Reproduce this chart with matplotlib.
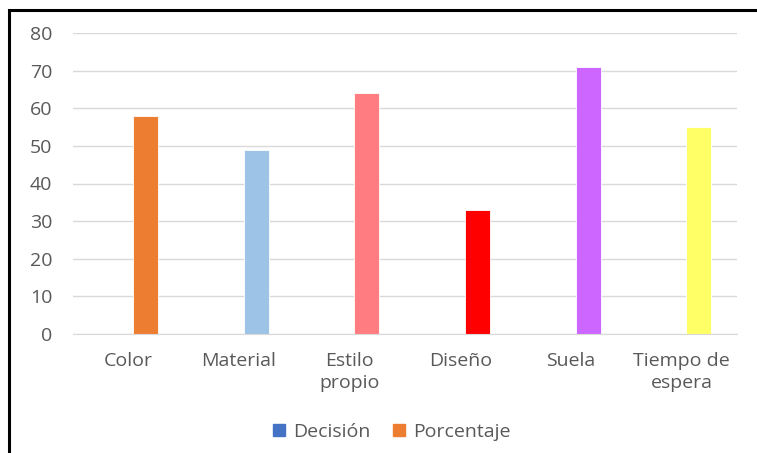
import matplotlib
matplotlib.use('Agg')
import matplotlib.pyplot as plt
from matplotlib.patches import Rectangle
from matplotlib.lines import Line2D
import numpy as np

plt.rcParams.update({'font.family': ['Open Sans', 'DejaVu Sans'], 'font.size': 14})

categories = ['Color', 'Material', 'Estilo\npropio', 'Diseño', 'Suela', 'Tiempo de\nespera']
decision = [0, 0, 0, 0, 0, 0]
porcentaje = [58, 49, 64, 33, 71, 55]
bar_colors = ['#ED7D31', '#9DC3E6', '#FF7C80', '#FF0000', '#CC66FF', '#FFFF66']
series_names = ['Decisión', 'Porcentaje']
legend_colors = ['#4472C4', '#ED7D31']

fig = plt.figure(figsize=(7.57, 4.53), dpi=100)
ax = fig.add_axes([73/757, 1 - 334/453, (737 - 73)/757, (334 - 33)/453])

x = np.arange(len(categories))
w = 0.226
off = 0.155
ax.bar(x - off, decision, w, color=legend_colors[0])
ax.bar(x + off, porcentaje, w, color=bar_colors, edgecolor='white', linewidth=0.6)

ax.set_xlim(-0.5, len(categories) - 0.5)
ax.set_ylim(0, 80)
ax.set_yticks(np.arange(0, 81, 10))
ax.set_xticks(x)
ax.set_xticklabels(categories, linespacing=1.3)
ax.grid(axis='y', color='#D9D9D9', linewidth=1)
ax.set_axisbelow(True)
for s in ['top', 'right', 'left']:
    ax.spines[s].set_visible(False)
ax.spines['bottom'].set_color('#D9D9D9')
ax.tick_params(axis='both', length=0, colors='#595959', labelsize=14)
ax.tick_params(axis='y', pad=15)
ax.tick_params(axis='x', pad=13)

handles = [Line2D([], [], marker='s', linestyle='none', markersize=8,
                  color=c) for c in legend_colors]
fig.legend(handles, series_names, loc='center', bbox_to_anchor=(392/757, 1 - 432/453),
           ncol=2, frameon=False, fontsize=14, handlelength=0.6, handletextpad=0.4,
           columnspacing=1.2, labelcolor='#595959')

# chart frame
fig.add_artist(Rectangle((9/757, -0.05), 1.0, 1 - 10.5/453 + 0.05,
                         transform=fig.transFigure, fill=False,
                         edgecolor='black', linewidth=2.2))

fig.savefig('out.png', dpi=100)
